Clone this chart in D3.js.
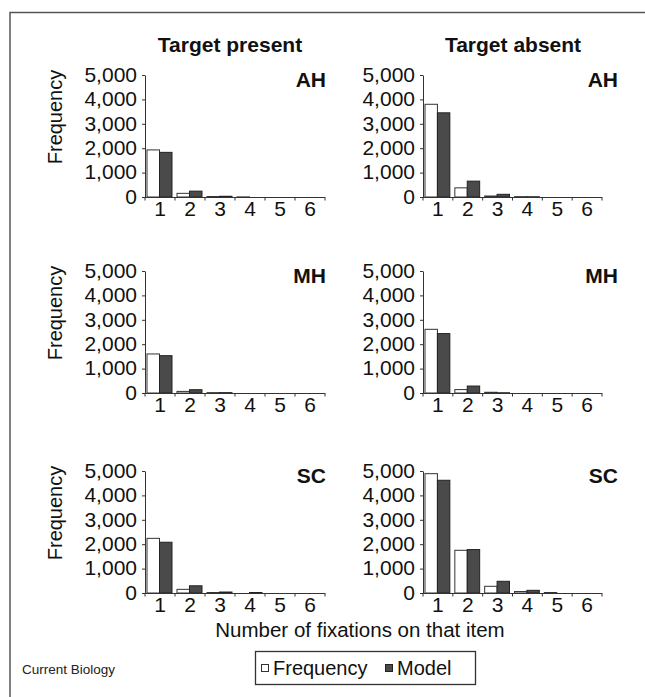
<!DOCTYPE html>
<html>
<head>
<meta charset="utf-8">
<script src="https://cdn.jsdelivr.net/npm/d3@7"></script>
<style>
  html, body { margin: 0; padding: 0; background: #fff; }
  svg { display: block; font-family: "Liberation Sans", Arial, Helvetica, sans-serif; }
</style>
</head>
<body>
<svg id="chart" width="645" height="697"></svg>
<script>
// ---- data ----
const categories = ["1", "2", "3", "4", "5", "6"];
const seriesNames = ["Frequency", "Model"];
const yTicks = [0, 1000, 2000, 3000, 4000, 5000];
const columnTitles = ["Target present", "Target absent"];
const rowLabels = ["AH", "MH", "SC"];

const presentAH_freq  = [1930, 150, 20, 5, 0, 0];
const presentAH_model = [1830, 240, 30, 0, 0, 0];
const absentAH_freq   = [3800, 375, 40, 15, 0, 0];
const absentAH_model  = [3450, 650, 110, 10, 0, 0];
const presentMH_freq  = [1600, 65, 15, 0, 0, 0];
const presentMH_model = [1530, 135, 15, 0, 0, 0];
const absentMH_freq   = [2610, 140, 30, 0, 0, 0];
const absentMH_model  = [2435, 285, 10, 0, 0, 0];
const presentSC_freq  = [2240, 150, 20, 0, 0, 0];
const presentSC_model = [2080, 295, 40, 20, 0, 0];
const absentSC_freq   = [4890, 1750, 275, 60, 20, 0];
const absentSC_model  = [4620, 1780, 480, 110, 0, 0];

const panelsData = [
  [[presentAH_freq, presentAH_model], [absentAH_freq, absentAH_model]],
  [[presentMH_freq, presentMH_model], [absentMH_freq, absentMH_model]],
  [[presentSC_freq, presentSC_model], [absentSC_freq, absentSC_model]]
];

// ---- layout ----
const colLeft = [145, 423];
const colWidth = [180, 179];
const rowTop = [75, 271, 471];
const plotH = 122;
const labelRight = [326, 618];
const titleX = [230, 513];
const FONT = "'Liberation Sans', Arial, Helvetica, sans-serif";
const fills = ["#ffffff", "#4a4a4a"];
const strokes = ["#333333", "#222222"];

const svg = d3.select("#chart");

// outer frame (top and left)
svg.append("path")
  .attr("d", "M10,697 L10,12.5 L645,12.5")
  .attr("fill", "none").attr("stroke", "#555").attr("stroke-width", 1.5);

// column titles
columnTitles.forEach((t, i) => {
  svg.append("text")
    .attr("x", titleX[i]).attr("y", 52)
    .attr("text-anchor", "middle")
    .attr("font-weight", "bold").attr("font-size", 21)
    .attr("fill", "#111")
    .text(t);
});

const y = d3.scaleLinear().domain([0, 5000]);

panelsData.forEach((row, r) => {
  row.forEach((pair, c) => {
    const g = svg.append("g").attr("transform", `translate(${colLeft[c]},${rowTop[r]})`);
    const x = d3.scaleBand().domain(categories).range([0, colWidth[c]]).padding(0);
    const xs = d3.scaleBand().domain(seriesNames).range([2, x.bandwidth() - 3]).padding(0);
    const yy = y.copy().range([plotH, 0]);

    // bars
    seriesNames.forEach((s, si) => {
      g.selectAll(null)
        .data(categories.map((cat, k) => ({ cat, v: pair[si][k] })))
        .enter().append("rect")
        .attr("x", d => x(d.cat) + xs(s))
        .attr("y", d => yy(d.v))
        .attr("width", xs.bandwidth())
        .attr("height", d => plotH - yy(d.v))
        .attr("fill", fills[si])
        .attr("stroke", strokes[si])
        .attr("stroke-width", d => d.v > 0 ? 1 : 0);
    });

    // y axis
    const ya = g.append("g").call(
      d3.axisLeft(yy).tickValues(yTicks).tickFormat(d3.format(","))
        .tickSize(3).tickSizeOuter(0).tickPadding(5)
    );
    ya.select(".domain").attr("stroke", "#333");
    ya.selectAll(".tick line").attr("stroke", "#333");
    ya.selectAll(".tick text")
      .attr("font-size", 21).attr("font-family", FONT).attr("fill", "#111")
      .attr("dy", "0.3em");

    // x axis line with ticks at band boundaries
    g.append("line")
      .attr("x1", 0).attr("x2", colWidth[c])
      .attr("y1", plotH + 0.5).attr("y2", plotH + 0.5)
      .attr("stroke", "#333");
    const bounds = categories.map(cat => x(cat) + x.bandwidth());
    g.selectAll(null).data([0].concat(bounds)).enter().append("line")
      .attr("x1", d => d).attr("x2", d => d)
      .attr("y1", plotH).attr("y2", plotH + 3.5)
      .attr("stroke", "#333");
    g.selectAll(null).data(categories).enter().append("text")
      .attr("x", d => x(d) + x.bandwidth() / 2)
      .attr("y", plotH + 19)
      .attr("text-anchor", "middle")
      .attr("font-size", 21).attr("fill", "#111")
      .text(d => d);

    // condition label
    svg.append("text")
      .attr("x", labelRight[c]).attr("y", rowTop[r] + 12)
      .attr("text-anchor", "end")
      .attr("font-weight", "bold").attr("font-size", 21).attr("fill", "#111")
      .text(rowLabels[r]);

    // y axis title on left column
    if (c === 0) {
      svg.append("text")
        .attr("transform", `translate(62,${rowTop[r] + 42}) rotate(-90)`)
        .attr("text-anchor", "middle")
        .attr("font-size", 20).attr("fill", "#111")
        .text("Frequency");
    }
  });
});

// x-axis title
svg.append("text")
  .attr("x", 360).attr("y", 637)
  .attr("text-anchor", "middle")
  .attr("font-size", 20.5).attr("fill", "#111")
  .text("Number of fixations on that item");

// legend
const lg = svg.append("g");
lg.append("rect")
  .attr("x", 255.5).attr("y", 651.5).attr("width", 220).attr("height", 33)
  .attr("fill", "#fff").attr("stroke", "#333").attr("stroke-width", 1.3);
const legendX = [261, 385];
seriesNames.forEach((s, i) => {
  lg.append("rect")
    .attr("x", legendX[i] + 0.5).attr("y", 664.5).attr("width", 7).attr("height", 7)
    .attr("fill", fills[i]).attr("stroke", strokes[i]).attr("stroke-width", 1);
  lg.append("text")
    .attr("x", legendX[i] + 12).attr("y", 675)
    .attr("font-size", 20).attr("fill", "#111")
    .text(s);
});

// credit
svg.append("text")
  .attr("x", 22).attr("y", 674)
  .attr("font-size", 13.5).attr("fill", "#222")
  .text("Current Biology");
</script>
</body>
</html>
